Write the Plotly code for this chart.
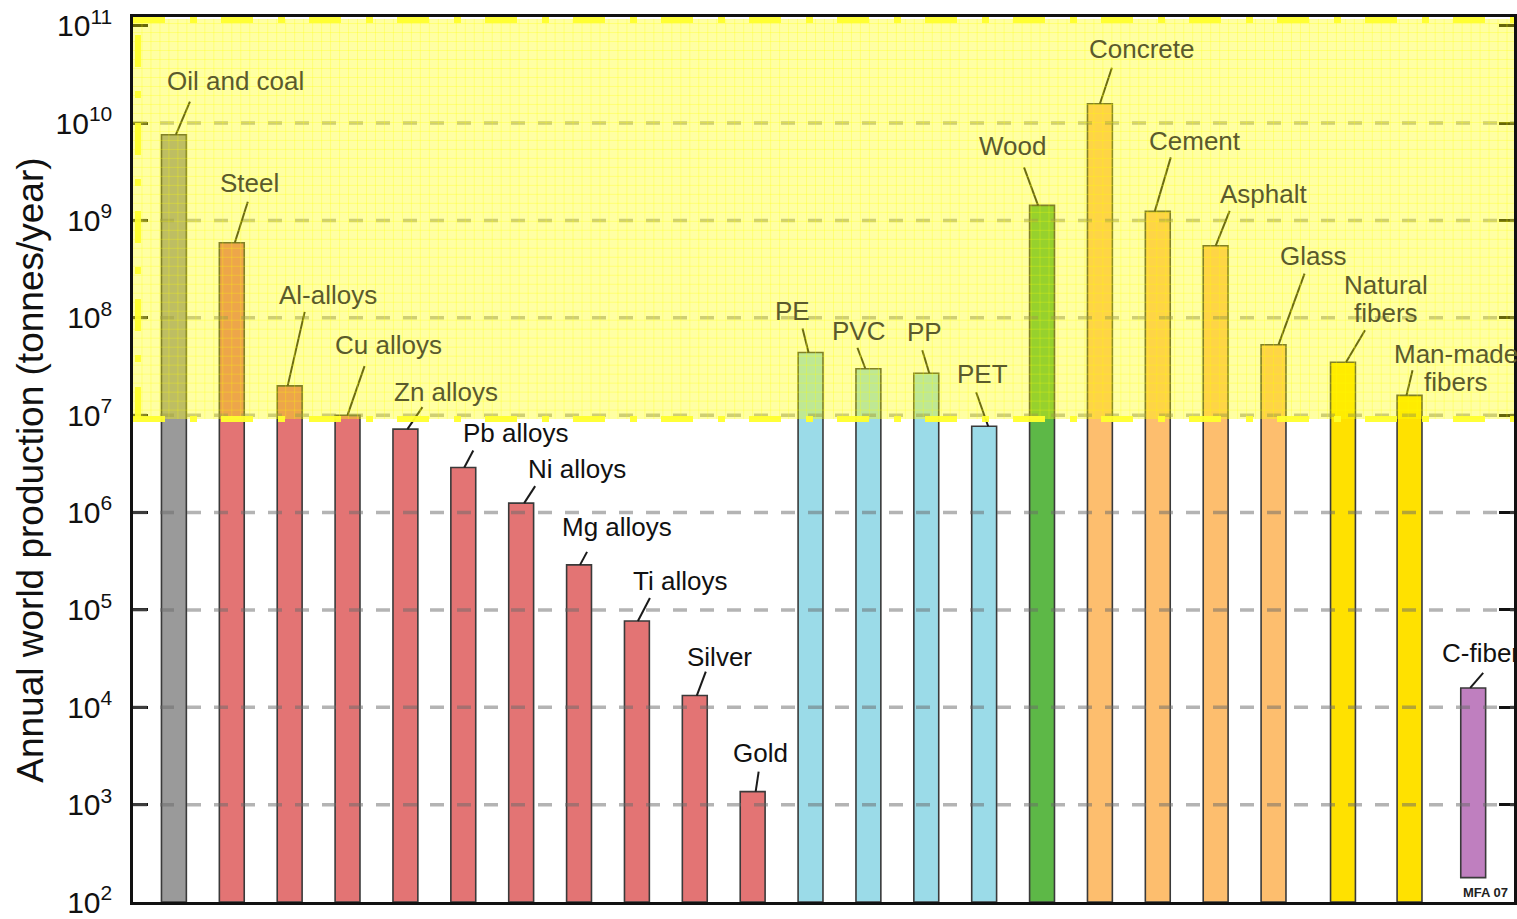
import math
import plotly.graph_objects as go

# ---- data -------------------------------------------------------------
materials = [
    "Oil and coal", "Steel", "Al-alloys", "Cu alloys", "Zn alloys",
    "Pb alloys", "Ni alloys", "Mg alloys", "Ti alloys", "Silver", "Gold",
    "PE", "PVC", "PP", "PET", "Wood", "Concrete", "Cement", "Asphalt",
    "Glass", "Natural<br>fibers", "Man-made<br>fibers", "C-fiber",
]
production = [
    7.6e9, 5.9e8, 2.0e7, 1.0e7, 7.2e6,
    2.9e6, 1.25e6, 2.9e5, 7.7e4, 1.32e4, 1.36e3,
    4.4e7, 3.0e7, 2.7e7, 7.7e6, 1.43e9, 1.58e10, 1.24e9, 5.5e8,
    5.3e7, 3.5e7, 1.6e7, 1.58e4,
]
families = (["fuel"] + ["metal"] * 10 + ["polymer"] * 4 + ["natural"]
            + ["ceramic"] * 4 + ["fiber"] * 2 + ["composite"])
slots = list(range(20)) + [20.2, 21.35, 22.45]
bar_floor = [100] * 22 + [178]

# ---- styling ------------------------------------------------------------
family_colors = {
    "fuel": "#9a9a9a",
    "metal": "#e37474",
    "polymer": "#9bdbe8",
    "natural": "#5db847",
    "ceramic": "#fdbe6e",
    "fiber": "#ffe100",
    "composite": "#bf7fbf",
}
FONT = "Liberation Sans, Arial, sans-serif"
Y_LO, Y_HI = 2.0, 11.09
PLOT_H = 886
DECADE_PX = PLOT_H / (Y_HI - Y_LO)
BAND_LOG = 6.96          # lower edge of the highlighted band
BAND_TOP_LOG = 11.07

# label centre offsets (px, right/down from bar top) and leader segments
label_offsets = [
    (62, -54), (18, -60), (38, -91), (41, -70), (41, -37),
    (53, -35), (56, -34), (38, -38), (43, -40), (25, -39), (8, -39),
    (-18, -42), (-10, -38), (-2, -41), (-2, -52), (-30, -59),
    (42, -55), (37, -70), (48, -52), (39, -89), (43, -63), (46, -27), (8, -35),
]
leader_offsets = [
    (16, -33, 2, 20), (16, -41, 3, 10), (15, -74, -2, 7), (17, -49, 0, 11),
    (17, -22, 2, 11), (10, -17, 1, 10), (14, -17, 3, 13), (8, -13, 1, 11),
    (13, -23, 1, 18), (11, -24, 2, 18), (6, -20, 3, 7), (-8, -24, -2, 10),
    (-11, -21, -3, 10), (-4, -23, 3, 12), (-8, -34, 4, 14), (-18, -38, -4, 15),
    (12, -36, 0, 10), (13, -54, -3, 6), (14, -35, 0, 8), (31, -71, 5, 9),
    (22, -32, 3, 11), (3, -25, -3, 12), (10, -15, -3, 12),
]

fig = go.Figure()
fig.add_trace(go.Bar(
    x=slots,
    y=[v - f for v, f in zip(production, bar_floor)],
    base=bar_floor,
    width=0.43,
    marker=dict(color=[family_colors[f] for f in families],
                line=dict(color="#3a3a3a", width=1.6)),
    hoverinfo="skip",
))

shapes = []
# dashed decade gridlines, painted over the bars
for k in range(3, 11):
    shapes.append(dict(type="line", xref="paper", yref="y", x0=0, x1=1,
                       y0=10 ** k, y1=10 ** k, layer="above",
                       line=dict(color="rgba(105,105,105,0.5)", width=3.5,
                                 dash="14px,13px")))
# leader lines from labels to bars
for i, (x0, y0, x1, y1) in enumerate(leader_offsets):
    shapes.append(dict(type="line", xref="x", yref="y",
                       xsizemode="pixel", ysizemode="pixel",
                       xanchor=slots[i], yanchor=production[i],
                       x0=x0, x1=x1, y0=-y0, y1=-y1, layer="above",
                       line=dict(color="#1a1a1a", width=2)))
# translucent highlight band over the high-volume materials
shapes.append(dict(type="rect", xref="paper", yref="y", x0=0, x1=1,
                   y0=10 ** BAND_LOG, y1=10 ** BAND_TOP_LOG, layer="above",
                   fillcolor="rgba(255,255,0,0.36)", line=dict(width=0)))
# fine grid texture in the band
band_bottom = (BAND_LOG - Y_LO) / (Y_HI - Y_LO)
band_top = (BAND_TOP_LOG - Y_LO) / (Y_HI - Y_LO)
segs = []
step_x = 9 / 1384
step_y = 9 / PLOT_H
x = step_x
while x < 1:
    segs.append(f"M{x:.5f},{band_bottom:.5f}L{x:.5f},{band_top:.5f}")
    x += step_x
y = band_bottom + step_y
while y < band_top:
    segs.append(f"M0,{y:.5f}L1,{y:.5f}")
    y += step_y
shapes.append(dict(type="path", xref="paper", yref="paper", path="".join(segs),
                   layer="above", line=dict(color="rgba(255,255,0,0.28)", width=1)))
# dashed band outline
band_dash = "32px,25px,7px,24px"
band_line = dict(color="rgba(255,255,45,0.95)", width=6, dash=band_dash)
shapes.append(dict(type="line", xref="paper", yref="y", x0=0, x1=1,
                   y0=10 ** 11.06, y1=10 ** 11.06, layer="above", line=band_line))
shapes.append(dict(type="line", xref="paper", yref="y", x0=0, x1=1,
                   y0=10 ** BAND_LOG, y1=10 ** BAND_LOG, layer="above", line=band_line))
shapes.append(dict(type="line", xref="paper", yref="y", x0=0.0036, x1=0.0036,
                   y0=10 ** BAND_LOG, y1=10 ** 11.06, layer="above", line=band_line))

annotations = []
for i, name in enumerate(materials):
    dx, dy = label_offsets[i]
    centre_log = math.log10(production[i]) - dy / DECADE_PX
    colour = "#5a5a2c" if centre_log > BAND_LOG else "#111111"
    lines = name.split("<br>")
    n = len(lines)
    for j, line in enumerate(lines):
        sy = dy + (j - (n - 1) / 2) * 28
        annotations.append(dict(
            x=slots[i], y=math.log10(production[i]), xref="x", yref="y",
            text=line, showarrow=False, xanchor="center", yanchor="middle",
            xshift=dx, yshift=-sy,
            font=dict(family=FONT, size=26, color=colour)))

annotations.append(dict(
    x=(30 - 133) / 1384, y=(903 - 471) / PLOT_H, xref="paper", yref="paper",
    text="Annual world production (tonnes/year)", textangle=-90,
    showarrow=False, xanchor="center", yanchor="middle",
    font=dict(family=FONT, size=37, color="#111111")))
annotations.append(dict(
    x=(1488 - 133) / 1384, y=(903 - 893) / PLOT_H, xref="paper", yref="paper",
    text="<b>MFA 07</b>", showarrow=False, xanchor="center", yanchor="middle",
    font=dict(family=FONT, size=13, color="#222222")))

tick_vals = [10 ** k for k in range(2, 12)]
tick_text = [f"10<sup>{k}</sup>" for k in range(2, 12)]

fig.update_layout(
    width=1517, height=919,
    margin=dict(l=133, r=0, t=17, b=16),
    paper_bgcolor="white", plot_bgcolor="white",
    showlegend=False,
    shapes=shapes, annotations=annotations,
    xaxis=dict(range=[-0.707, 23.155], showgrid=False, zeroline=False,
               showticklabels=False, ticks="", showline=True, mirror=True,
               linecolor="#111111", linewidth=2.5, fixedrange=True),
    yaxis=dict(type="log", range=[Y_LO, Y_HI], showgrid=False, zeroline=False,
               tickvals=tick_vals, ticktext=tick_text, ticks="inside",
               ticklen=15, tickwidth=2.5, tickcolor="#111111",
               showline=True, mirror="ticks", linecolor="#111111", linewidth=2.5,
               ticklabelstandoff=12, ticklabeloverflow="allow",
               tickfont=dict(family=FONT, size=30, color="#111111")),
)

fig.write_html("out.html")
